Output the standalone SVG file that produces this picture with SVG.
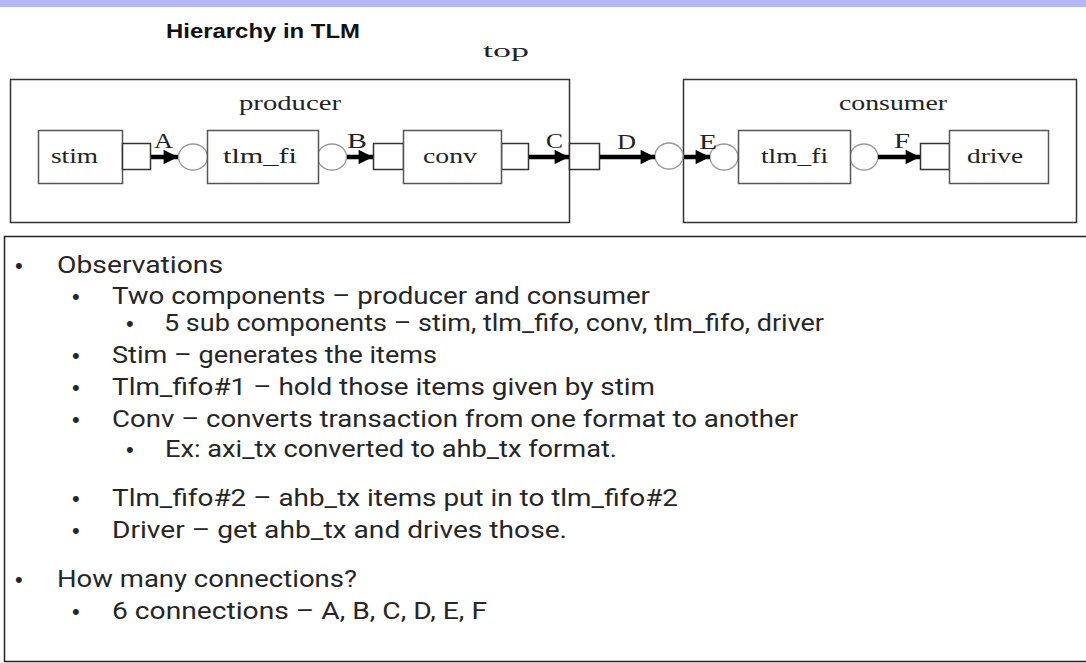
<svg xmlns="http://www.w3.org/2000/svg" width="1086" height="663" viewBox="0 0 1086 663">
<defs>
<style>
.box{fill:#fff;stroke:#555;stroke-width:1.5}
.outer{fill:#fff;stroke:#333;stroke-width:1.5}
.port{fill:#fff;stroke:#333;stroke-width:1.5}
.circ{fill:#fff;stroke:#999;stroke-width:1.3}
.ser{font-family:"Liberation Serif","Times New Roman",serif;fill:#222}
.lbl{font-family:"Liberation Serif","Times New Roman",serif;fill:#222;font-size:21px}
.obs{font-family:Roboto,"Liberation Sans",sans-serif;font-size:24px;fill:#262626}
.bul{font-family:"Liberation Sans",Arial,sans-serif;font-size:22px;fill:#262626}
.conn{stroke:#000;stroke-width:4.5;fill:none}
</style>
<marker id="ah" viewBox="0 0 10 10" refX="10" refY="5" markerWidth="3.6" markerHeight="3.2" markerUnits="strokeWidth" orient="auto">
<path d="M0,0 L10,5 L0,10 z" fill="#000"/>
</marker>
</defs>
<rect width="1086" height="663" fill="#fff"/>
<rect x="0" y="0" width="1086" height="7" fill="#b4b8f6"/>
<text x="166" y="38" font-family="'Liberation Sans',Arial,sans-serif" font-weight="bold" font-size="20" textLength="194" lengthAdjust="spacingAndGlyphs" fill="#111">Hierarchy in TLM</text>
<text x="483" y="57" class="ser" font-size="18" textLength="46" lengthAdjust="spacingAndGlyphs">top</text>

<g id="producer">
<rect class="outer" x="10.5" y="79.5" width="559" height="143"/>
<text x="239" y="110" class="ser" font-size="21" textLength="102" lengthAdjust="spacingAndGlyphs">producer</text>
</g>
<g id="consumer">
<rect class="outer" x="683.5" y="79.5" width="393" height="143"/>
<text x="839" y="110" class="ser" font-size="21" textLength="108" lengthAdjust="spacingAndGlyphs">consumer</text>
</g>

<g id="stim">
<rect class="box" x="38.5" y="130.5" width="84" height="53"/>
<rect class="port" x="122.5" y="143.5" width="28" height="26"/>
<text x="51" y="163" class="ser" font-size="22" textLength="47" lengthAdjust="spacingAndGlyphs">stim</text>
</g>
<g id="tlm_fifo1">
<ellipse class="circ" cx="193" cy="157" rx="14.5" ry="13"/>
<ellipse class="circ" cx="332" cy="157" rx="14.5" ry="13"/>
<rect class="box" x="207.5" y="130.5" width="111" height="53"/>
<text x="223" y="163" class="ser" font-size="22" textLength="74" lengthAdjust="spacingAndGlyphs">tlm_fi</text>
</g>
<g id="conv">
<rect class="port" x="373.5" y="143.5" width="30" height="26"/>
<rect class="port" x="501.5" y="143.5" width="27" height="26"/>
<rect class="box" x="403.5" y="130.5" width="98" height="53"/>
<text x="423" y="163" class="ser" font-size="22" textLength="54" lengthAdjust="spacingAndGlyphs">conv</text>
</g>
<g id="producer_port">
<rect class="port" x="569.5" y="143.5" width="30" height="26"/>
</g>
<g id="consumer_export">
<ellipse class="circ" cx="669" cy="156" rx="14" ry="13"/>
</g>
<g id="tlm_fifo2">
<ellipse class="circ" cx="724" cy="157" rx="14" ry="13"/>
<ellipse class="circ" cx="864" cy="157" rx="14" ry="13"/>
<rect class="box" x="738.5" y="130.5" width="112" height="53"/>
<text x="761" y="163" class="ser" font-size="22" textLength="67" lengthAdjust="spacingAndGlyphs">tlm_fi</text>
</g>
<g id="drive">
<rect class="port" x="920.5" y="143.5" width="29" height="26"/>
<rect class="box" x="949.5" y="130.5" width="99" height="53"/>
<text x="967" y="163" class="ser" font-size="22" textLength="56" lengthAdjust="spacingAndGlyphs">drive</text>
</g>

<g id="connectors">
<line class="conn" x1="151" y1="157" x2="178" y2="157" marker-end="url(#ah)"/>
<line class="conn" x1="347" y1="157" x2="373" y2="157" marker-end="url(#ah)"/>
<line class="conn" x1="529" y1="157" x2="569" y2="157" marker-end="url(#ah)"/>
<line class="conn" x1="600" y1="157" x2="655" y2="157" marker-end="url(#ah)"/>
<line class="conn" x1="684" y1="157" x2="710" y2="157" marker-end="url(#ah)"/>
<line class="conn" x1="878" y1="157" x2="920" y2="157" marker-end="url(#ah)"/>
<text x="154" y="148" class="lbl" textLength="19" lengthAdjust="spacingAndGlyphs">A</text>
<text x="347" y="148" class="lbl" textLength="20" lengthAdjust="spacingAndGlyphs">B</text>
<text x="546" y="148" class="lbl" textLength="17" lengthAdjust="spacingAndGlyphs">C</text>
<text x="617" y="149" class="lbl" textLength="19" lengthAdjust="spacingAndGlyphs">D</text>
<text x="699" y="149" class="lbl" textLength="18" lengthAdjust="spacingAndGlyphs">E</text>
<text x="894" y="148" class="lbl" textLength="16" lengthAdjust="spacingAndGlyphs">F</text>
</g>

<g id="observations">
<rect x="4.5" y="236.5" width="1090" height="425" fill="none" stroke="#222" stroke-width="1.5"/>
<text class="bul" x="15" y="273">•</text>
<text class="obs" x="57" y="273" textLength="166" lengthAdjust="spacingAndGlyphs">Observations</text>
<text class="bul" x="72" y="304">•</text>
<text class="obs" x="112" y="304" textLength="538" lengthAdjust="spacingAndGlyphs">Two components – producer and consumer</text>
<text class="bul" x="126" y="331">•</text>
<text class="obs" x="164" y="331" textLength="660" lengthAdjust="spacingAndGlyphs">5 sub components – stim, tlm_fifo, conv, tlm_fifo, driver</text>
<text class="bul" x="72" y="363">•</text>
<text class="obs" x="112" y="363" textLength="325" lengthAdjust="spacingAndGlyphs">Stim – generates the items</text>
<text class="bul" x="72" y="395">•</text>
<text class="obs" x="112" y="395" textLength="543" lengthAdjust="spacingAndGlyphs">Tlm_fifo#1 – hold those items given by stim</text>
<text class="bul" x="72" y="427">•</text>
<text class="obs" x="112" y="427" textLength="686" lengthAdjust="spacingAndGlyphs">Conv – converts transaction from one format to another</text>
<text class="bul" x="126" y="457">•</text>
<text class="obs" x="165" y="457" textLength="452" lengthAdjust="spacingAndGlyphs">Ex: axi_tx converted to ahb_tx format.</text>
<text class="bul" x="72" y="506">•</text>
<text class="obs" x="112" y="506" textLength="566" lengthAdjust="spacingAndGlyphs">Tlm_fifo#2 – ahb_tx items put in to tlm_fifo#2</text>
<text class="bul" x="72" y="538">•</text>
<text class="obs" x="112" y="538" textLength="455" lengthAdjust="spacingAndGlyphs">Driver – get ahb_tx and drives those.</text>
<text class="bul" x="15" y="587">•</text>
<text class="obs" x="57" y="587" textLength="300" lengthAdjust="spacingAndGlyphs">How many connections?</text>
<text class="bul" x="72" y="619">•</text>
<text class="obs" x="112" y="619" textLength="375" lengthAdjust="spacingAndGlyphs">6 connections – A, B, C, D, E, F</text>
</g>
</svg>
